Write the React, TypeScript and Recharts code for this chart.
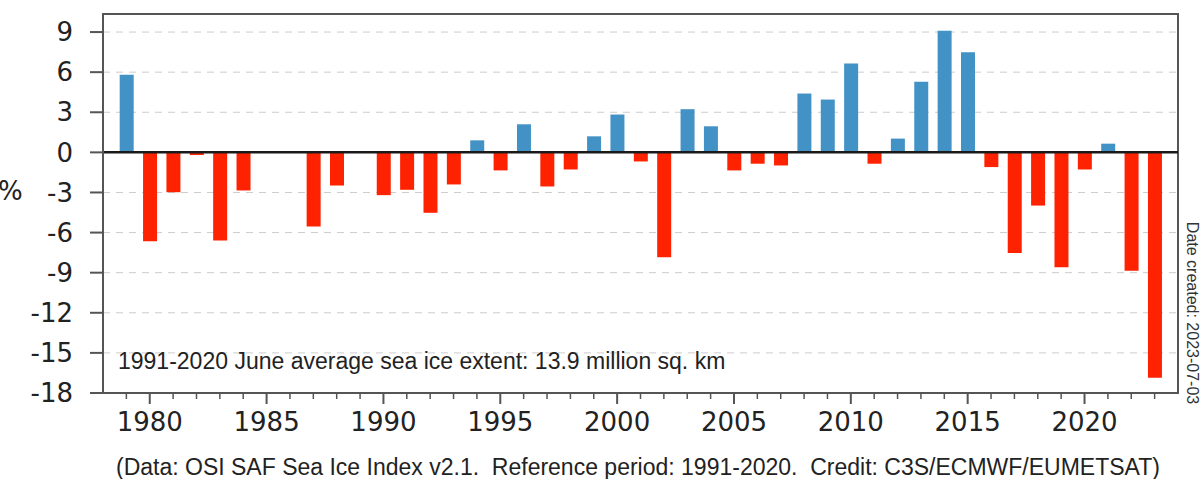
import React from 'react';
import { BarChart, Bar, XAxis, YAxis, CartesianGrid, ReferenceLine, ReferenceArea, Cell } from 'recharts';

const years: number[] = [
  1979, 1980, 1981, 1982, 1983, 1984, 1985, 1986, 1987, 1988, 1989, 1990,
  1991, 1992, 1993, 1994, 1995, 1996, 1997, 1998, 1999, 2000, 2001, 2002,
  2003, 2004, 2005, 2006, 2007, 2008, 2009, 2010, 2011, 2012, 2013, 2014,
  2015, 2016, 2017, 2018, 2019, 2020, 2021, 2022, 2023,
];

const anomalies: (number | null)[] = [
  5.8, -6.65, -2.98, -0.2, -6.6, -2.85, null, null, -5.55, -2.48, 0.1, -3.2,
  -2.8, -4.52, -2.4, 0.9, -1.35, 2.1, -2.55, -1.28, 1.2, 2.83, -0.68, -7.85,
  3.23, 1.95, -1.35, -0.85, -0.98, 4.4, 3.95, 6.65, -0.85, 1.03, 5.28, 9.1,
  7.48, -1.1, -7.53, -3.98, -8.6, -1.28, 0.65, -8.85, -16.85,
];

const yTicks: number[] = [-18, -15, -12, -9, -6, -3, 0, 3, 6, 9];
const xMajorTicks: number[] = [1980, 1985, 1990, 1995, 2000, 2005, 2010, 2015, 2020];

const annotation = '1991-2020 June average sea ice extent: 13.9 million sq. km';
const credit = '(Data: OSI SAF Sea Ice Index v2.1.  Reference period: 1991-2020.  Credit: C3S/ECMWF/EUMETSAT)';
const dateCreated = 'Date created: 2023-07-03';

const data = years.map((y, i) => ({ year: y, value: anomalies[i] }));

const BLUE = '#4292c6';
const RED = '#ff2200';
const FRAME = '#555555';
const Y_MIN = -18;
const Y_MAX = 10.35;

const XTick = (props: any) => {
  const { x, y, payload } = props;
  const yr = payload.value as number;
  const major = xMajorTicks.includes(yr);
  return (
    <g>
      <line x1={x} x2={x} y1={y} y2={y + (major ? 11 : 6)} stroke={FRAME} strokeWidth={major ? 2 : 1.5} />
      {major && (
        <text x={x} y={y + 20} dy="0.71em" textAnchor="middle" fontSize={26} fill="#222" fontFamily="DejaVu Sans">
          {yr}
        </text>
      )}
    </g>
  );
};

export default function App() {
  return (
    <div style={{ position: 'absolute', left: 0, top: 0, width: 1201, height: 479, background: '#fff' }}>
      <BarChart width={1201} height={479} data={data} margin={{ top: 14, right: 23, left: 0, bottom: 0 }}>
        <CartesianGrid vertical={false} stroke="#cccccc" strokeDasharray="7 6" />
        <XAxis
          dataKey="year"
          type="number"
          domain={[1978, 2024]}
          ticks={years}
          interval={0}
          allowDataOverflow
          tickLine={false}
          tickSize={0}
          tickMargin={0}
          axisLine={{ stroke: FRAME, strokeWidth: 2 }}
          tick={<XTick />}
          height={86}
        />
        <YAxis
          type="number"
          domain={[Y_MIN, Y_MAX]}
          ticks={yTicks}
          interval={0}
          allowDataOverflow
          width={103}
          tickSize={13}
          tickMargin={17}
          tickLine={{ stroke: FRAME, strokeWidth: 2 }}
          axisLine={{ stroke: FRAME, strokeWidth: 2 }}
          tick={{ fontSize: 26, fill: '#222', fontFamily: 'DejaVu Sans' }}
        />
        <Bar dataKey="value" barSize={14} isAnimationActive={false}>
          {data.map((d, i) => (
            <Cell key={i} fill={(d.value ?? 0) >= 0 ? BLUE : RED} />
          ))}
        </Bar>
        <ReferenceLine y={0} stroke="#1a1a1a" strokeWidth={2.5} ifOverflow="visible" />
        <ReferenceArea x1={1978} x2={2024} y1={Y_MIN} y2={Y_MAX} fill="none" fillOpacity={0} stroke={FRAME} strokeWidth={2} ifOverflow="visible" />
      </BarChart>
      <div style={{ position: 'absolute', left: -2, top: 176, fontSize: 26, fontFamily: 'DejaVu Sans', color: '#222', lineHeight: '30px' }}>%</div>
      <div style={{ position: 'absolute', left: 118, top: 347, fontSize: 23, fontFamily: 'Liberation Sans', color: '#222', lineHeight: '28px', whiteSpace: 'pre' }}>{annotation}</div>
      <div style={{ position: 'absolute', left: 116, top: 453, fontSize: 23, fontFamily: 'Liberation Sans', color: '#222', lineHeight: '28px', whiteSpace: 'pre' }}>{credit}</div>
      <div style={{ position: 'absolute', left: 1192, top: 313, width: 0, height: 0 }}>
        <div style={{ position: 'absolute', left: 0, top: 0, transform: 'translate(-50%, -50%) rotate(90deg)', fontSize: 16, fontFamily: 'Liberation Sans', color: '#333', whiteSpace: 'pre', lineHeight: '16px' }}>{dateCreated}</div>
      </div>
    </div>
  );
}
